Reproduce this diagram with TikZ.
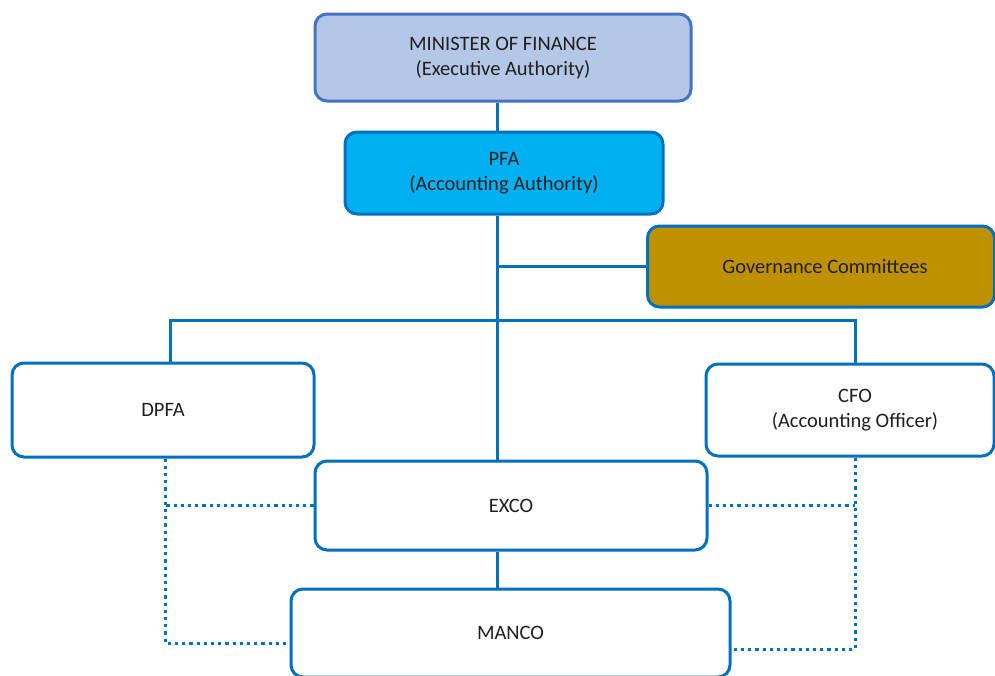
\documentclass[tikz,border=0pt]{standalone}
\usepackage{fontspec}
\setmainfont{Carlito}
\usepackage{xcolor}
\usepackage{tikz}
\usetikzlibrary{positioning,calc}
\definecolor{orgblue}{RGB}{0,112,192}
\definecolor{minline}{RGB}{68,114,196}
\definecolor{minfill}{RGB}{180,199,231}
\definecolor{pfafill}{RGB}{0,176,240}
\definecolor{govfill}{RGB}{191,144,0}
\tikzset{
  orgbox/.style={draw=orgblue, line width=1.5pt, rounded corners=6pt, inner sep=0pt, align=center, text=black!88},
  minbox/.style={orgbox, draw=minline, fill=minfill},
  pfabox/.style={orgbox, fill=pfafill},
  govbox/.style={orgbox, fill=govfill},
  unitbox/.style={orgbox, fill=white},
  link/.style={draw=orgblue, line width=1.5pt},
  dotlink/.style={draw=orgblue, line width=1.5pt, dash pattern=on 1.6pt off 2pt},
}

\begin{document}
\begin{tikzpicture}[x=0.5pt,y=-0.5pt,font=\fontsize{10.25}{12.5}\selectfont]
  \useasboundingbox (0,0) rectangle (995,675);
  % boxes
  \node[minbox, minimum width=188pt, minimum height=43.5pt] (minister) at (503,57.5) {MINISTER OF FINANCE\\(Executive Authority)};
  \node[pfabox, minimum width=159pt, minimum height=41pt] (pfa) at (504,173) {PFA\\(Accounting Authority)};
  \node[govbox, minimum width=173.5pt, minimum height=40.5pt] (gov) at (821,266.5) {\hspace{4pt}Governance Committees};
  \node[unitbox, minimum width=151pt, minimum height=47pt] (dpfa) at (163,410) {DPFA};
  \node[unitbox, minimum width=144pt, minimum height=46pt] (cfo) at (850,410) {\hspace{5pt}CFO\\\hspace{5pt}(Accounting Officer)};
  \node[unitbox, minimum width=196pt, minimum height=44.5pt] (exco) at (511,505.5) {EXCO};
  \node[unitbox, minimum width=219.5pt, minimum height=44pt] (manco) at (510.5,633) {MANCO};
  % trunk and bus
  \coordinate (trunk) at (497,0);
  \coordinate (bus) at (0,320);
  \draw[link] (minister.south -| trunk) -- (pfa.north -| trunk);
  \draw[link] (pfa.south -| trunk) -- (exco.north -| trunk);
  \draw[link] (gov.west) -- (gov.west -| trunk);
  \draw[link] ([xshift=3.5pt]dpfa.north) |- (trunk |- bus) -| ([xshift=2.5pt]cfo.north);
  \draw[link] (exco.south -| trunk) -- (manco.north -| trunk);
  % dotted reporting lines
  \coordinate (dleft) at ([xshift=1pt]dpfa.south);
  \coordinate (dright) at ([xshift=2.5pt]cfo.south);
  \draw[dotlink] (dleft) |- ([yshift=-5pt]manco.west);
  \draw[dotlink] (exco.west) -- (exco.west -| dleft);
  \draw[dotlink] (dright) |- ([yshift=-8pt]manco.east);
  \draw[dotlink] (exco.east) -- (exco.east -| dright);
\end{tikzpicture}
\end{document}
